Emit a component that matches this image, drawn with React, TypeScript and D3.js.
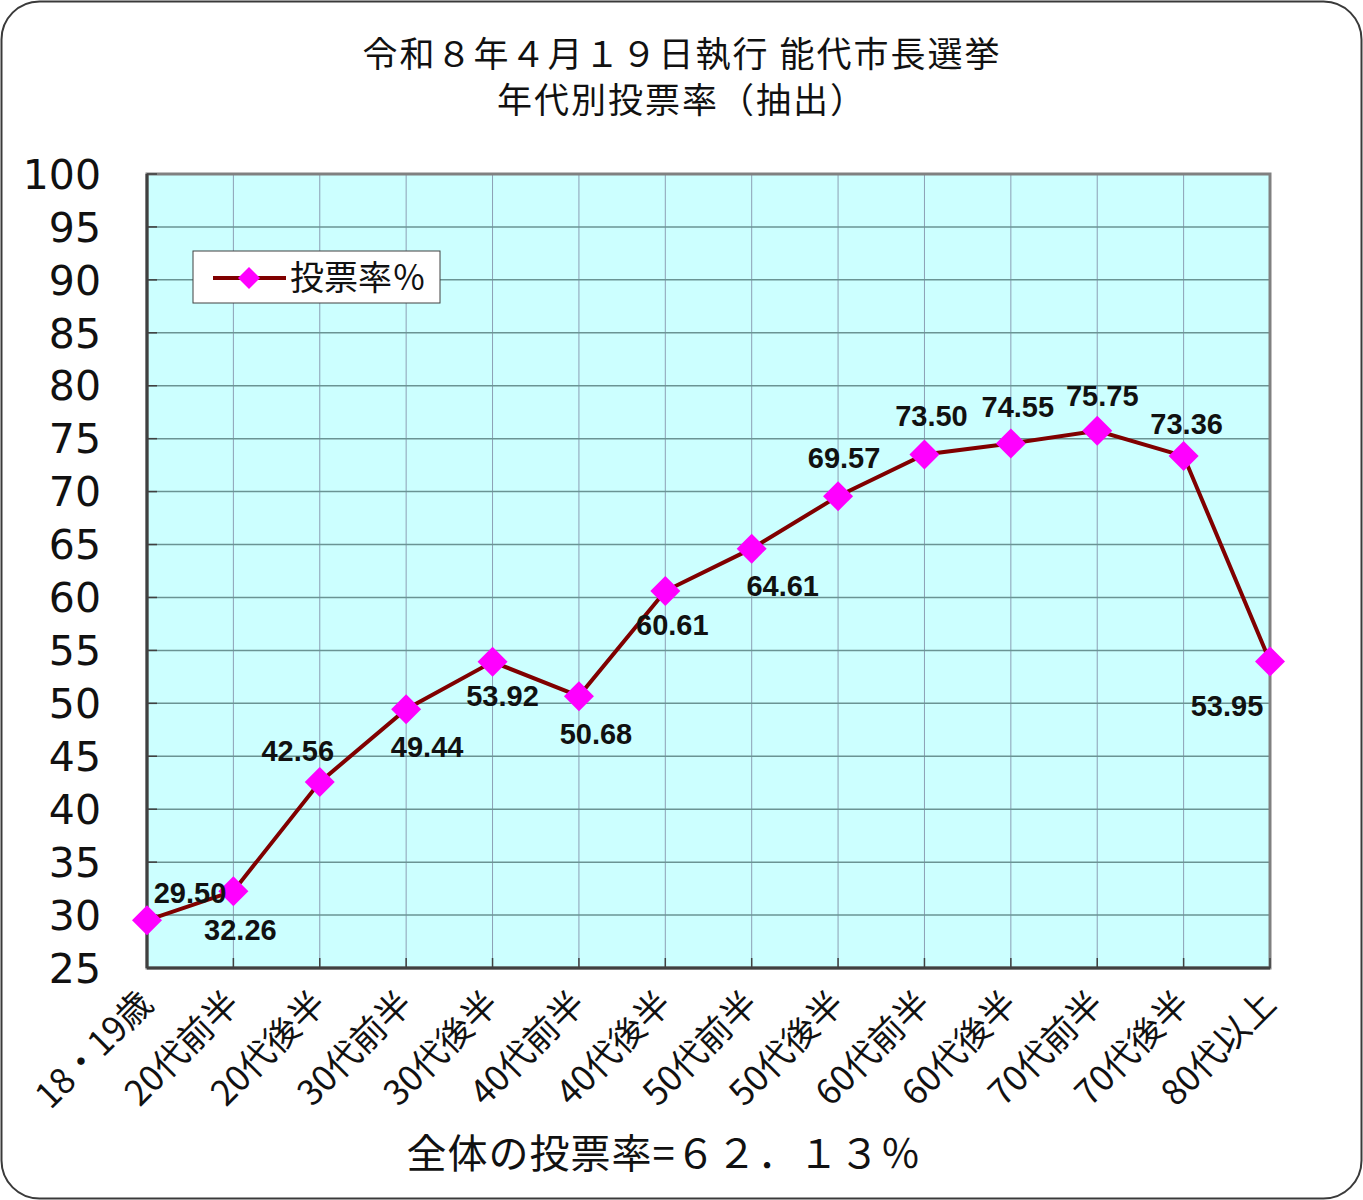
import React, { useEffect, useRef } from 'react';
import * as d3 from 'd3';

// 年代区分
const categories = [
  '18・19歳', '20代前半', '20代後半', '30代前半', '30代後半', '40代前半', '40代後半',
  '50代前半', '50代後半', '60代前半', '60代後半', '70代前半', '70代後半', '80代以上',
];
// 投票率（％）
const rates = [29.5, 32.26, 42.56, 49.44, 53.92, 50.68, 60.61, 64.61, 69.57, 73.5, 74.55, 75.75, 73.36, 53.95];
const yTicks = d3.range(25, 101, 5);

// ラベルの位置ずらし [dx, dy]
const labelOffsets: [number, number][] = [
  [43, -17], [7, 49], [-22, -21], [21, 48], [10, 44], [17, 48], [7, 44],
  [31, 47], [6, -28], [7, -29], [7, -26], [5, -25], [3, -22], [-43, 54],
];

const W = 1363;
const H = 1200;
const plot = { left: 147, right: 1270, top: 174, bottom: 968 };
const jp = '"Noto Sans CJK JP", "DejaVu Sans", sans-serif';

const diamond = (cx: number, cy: number, r: number) =>
  `M${cx},${cy - r}L${cx + r},${cy}L${cx},${cy + r}L${cx - r},${cy}Z`;

const TurnoutChart = () => {
  const svgRef = useRef<SVGSVGElement>(null);

  useEffect(() => {
    const svg = d3.select(svgRef.current);
    svg.selectAll('*').remove();

    const x = d3.scalePoint<string>().domain(categories).range([plot.left, plot.right]);
    const y = d3.scaleLinear().domain([25, 100]).range([plot.bottom, plot.top]);

    svg.append('rect').attr('width', W).attr('height', H).attr('fill', '#fff');

    // 外枠
    svg.append('rect')
      .attr('x', 1.5).attr('y', 1.5)
      .attr('width', W - 3).attr('height', H - 3)
      .attr('rx', 38)
      .attr('fill', '#fff')
      .attr('stroke', '#3a3a3a')
      .attr('stroke-width', 2);

    // タイトル
    const title = svg.append('text')
      .attr('text-anchor', 'middle')
      .style('font-family', jp)
      .style('font-size', '35px')
      .style('letter-spacing', '2px')
      .attr('fill', '#111');
    title.append('tspan').attr('x', 682).attr('y', 67).text('令和８年４月１９日執行 能代市長選挙');
    title.append('tspan').attr('x', 682).attr('y', 113).text('年代別投票率（抽出）');

    // プロットエリア
    svg.append('rect')
      .attr('x', plot.left).attr('y', plot.top)
      .attr('width', plot.right - plot.left).attr('height', plot.bottom - plot.top)
      .attr('fill', '#ccffff');

    // 縦グリッド
    svg.append('g').selectAll('line')
      .data(categories.slice(1, -1))
      .enter().append('line')
      .attr('x1', d => x(d)!).attr('x2', d => x(d)!)
      .attr('y1', plot.top).attr('y2', plot.bottom)
      .attr('stroke', '#8c9fb4')
      .attr('stroke-width', 1);

    // 横グリッド
    svg.append('g').selectAll('line')
      .data(yTicks.slice(1, -1))
      .enter().append('line')
      .attr('x1', plot.left).attr('x2', plot.right)
      .attr('y1', d => y(d)).attr('y2', d => y(d))
      .attr('stroke', '#6a9494')
      .attr('stroke-width', 1.5);

    // 枠線
    svg.append('rect')
      .attr('x', plot.left).attr('y', plot.top)
      .attr('width', plot.right - plot.left).attr('height', plot.bottom - plot.top)
      .attr('fill', 'none')
      .attr('stroke', '#808080')
      .attr('stroke-width', 3);

    // Y軸
    const yAxis = svg.append('g').attr('transform', `translate(${plot.left},0)`);
    yAxis.append('line')
      .attr('y1', plot.top).attr('y2', plot.bottom)
      .attr('stroke', '#404040').attr('stroke-width', 3);
    yAxis.selectAll('.tick')
      .data(yTicks)
      .enter().append('line')
      .attr('x1', 0).attr('x2', 10)
      .attr('y1', d => y(d)).attr('y2', d => y(d))
      .attr('stroke', '#404040').attr('stroke-width', 1.5);
    yAxis.selectAll('text')
      .data(yTicks)
      .enter().append('text')
      .attr('x', -46)
      .attr('y', d => y(d))
      .attr('dy', '0.36em')
      .attr('text-anchor', 'end')
      .style('font-family', '"DejaVu Sans", sans-serif')
      .style('font-size', '41px')
      .attr('fill', '#111')
      .text(d => d);

    // X軸
    const xAxis = svg.append('g');
    xAxis.append('line')
      .attr('x1', plot.left).attr('x2', plot.right)
      .attr('y1', plot.bottom).attr('y2', plot.bottom)
      .attr('stroke', '#404040').attr('stroke-width', 3);
    xAxis.selectAll('.tick')
      .data(categories)
      .enter().append('line')
      .attr('x1', d => x(d)!).attr('x2', d => x(d)!)
      .attr('y1', plot.bottom).attr('y2', plot.bottom - 10)
      .attr('stroke', '#404040').attr('stroke-width', 1.5);
    xAxis.selectAll('text')
      .data(categories)
      .enter().append('text')
      .attr('transform', d => `translate(${x(d)! + 8},${plot.bottom + 38}) rotate(-45)`)
      .attr('text-anchor', 'end')
      .style('font-family', jp)
      .style('font-size', '35px')
      .attr('fill', '#111')
      .text(d => d);

    // 折れ線
    const pts = categories.map((c, i) => [x(c)!, y(rates[i])] as [number, number]);
    svg.append('path')
      .attr('d', d3.line()(pts))
      .attr('fill', 'none')
      .attr('stroke', '#800000')
      .attr('stroke-width', 4);

    svg.append('g').selectAll('path')
      .data(pts)
      .enter().append('path')
      .attr('d', d => diamond(d[0], d[1], 15))
      .attr('fill', '#ff00ff');

    // 値ラベル
    svg.append('g').selectAll('text')
      .data(rates)
      .enter().append('text')
      .attr('x', (d, i) => pts[i][0] + labelOffsets[i][0])
      .attr('y', (d, i) => pts[i][1] + labelOffsets[i][1])
      .attr('text-anchor', 'middle')
      .style('font-family', '"Liberation Sans", Arial, sans-serif')
      .style('font-weight', 'bold')
      .style('font-size', '29px')
      .attr('fill', '#111')
      .text(d => d.toFixed(2));

    // 凡例
    const lg = svg.append('g').attr('transform', 'translate(193,251)');
    lg.append('rect')
      .attr('width', 247).attr('height', 52)
      .attr('fill', '#fff')
      .attr('stroke', '#404040').attr('stroke-width', 1);
    lg.append('line')
      .attr('x1', 20).attr('x2', 93).attr('y1', 27).attr('y2', 27)
      .attr('stroke', '#800000').attr('stroke-width', 4);
    lg.append('path').attr('d', diamond(56, 27, 11)).attr('fill', '#ff00ff');
    lg.append('text')
      .attr('x', 97).attr('y', 39)
      .style('font-family', jp)
      .style('font-size', '34px')
      .attr('fill', '#111')
      .text('投票率％');

    // 全体の投票率
    svg.append('text')
      .attr('x', 664).attr('y', 1168)
      .attr('text-anchor', 'middle')
      .style('font-family', jp)
      .style('font-size', '40px')
      .style('letter-spacing', '1px')
      .attr('fill', '#111')
      .text('全体の投票率=６２．１３％');
  }, []);

  return <svg ref={svgRef} width={W} height={H} style={{ display: 'block' }} />;
};

export default function App() {
  return (
    <div style={{ position: 'absolute', left: 0, top: 0 }}>
      <TurnoutChart />
    </div>
  );
}
